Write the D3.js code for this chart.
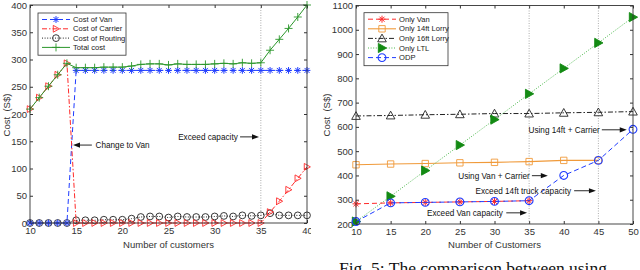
<!DOCTYPE html>
<html lang="en">
<head>
<meta charset="UTF-8">
<title>Cost comparison</title>
<script src="https://d3js.org/d3.v7.min.js"></script>
<style>
  body { margin: 0; background: #fff; }
  svg { display: block; font-family: "Liberation Sans", Arial, sans-serif; }
  .tick text { fill: #333; font-size: 9.5px; }
  .tick line { stroke: #333; }
  .frame { fill: none; stroke: #333; stroke-width: 0.9; }
  .lbl { fill: #333; font-size: 9.5px; }
  .note { fill: #111; font-size: 8.2px; }
  .leg text { fill: #222; font-size: 7.6px; }
</style>
</head>
<body>
<svg width="640" height="270"></svg>
<script>
// ---- left panel data (number of customers 10..40) ----
const custLeft = d3.range(10, 41);
const costVan =     [0,0,0,0,0, 280,280,280,280,280, 280,280,280,280,280, 280,280,280,280,280, 280,280,280,280,280, 280,280,280,280,280, 280];
const costCarrier = [209,230,251,272,293, 0,0,0,0,0, 0,0,0,0,0, 0,0,0,0,0, 0,0,0,0,0, 0,20,40,61,82, 103];
const costRouting = [0,0,0,0,0, 5,5,5,6,6, 6,8,11,12,12, 10,12,11,11,11, 12,13,12,14,13, 14,18,14,14,14, 14];
const totalCost =   [209,230,251,272,293, 285,285,285,286,286, 286,288,291,292,292, 290,292,291,291,291, 292,293,292,294,293, 294,317,337,357,378, 400];

// ---- right panel data (number of customers 10..50) ----
const custRight = [10, 15, 20, 25, 30, 35, 40, 45, 50];
const onlyVan =     [283, 287, 289, 291, 293, 296];
const only14ft =    [444, 447, 449, 452, 454, 457, 462, 462];
const only16ft =    [645, 647, 650, 652, 655, 655, 658, 660, 663];
const onlyLTL =     [210, 314, 420, 525, 630, 736, 841, 946, 1052];
const odp =         [210, 287, 289, 291, 293, 296, 400, 462, 590];

const svg = d3.select("svg");

// marker shapes
function markerPath(type, s) {
  if (type === "star") {
    const d = s * 0.72;
    return `M${-s},0H${s}M0,${-s}V${s}M${-d},${-d}L${d},${d}M${-d},${d}L${d},${-d}`;
  }
  if (type === "plus") return `M${-s},0H${s}M0,${-s}V${s}`;
  if (type === "triRight") return `M${-s * 0.8},${-s}L${s},0L${-s * 0.8},${s}Z`;
  if (type === "triUp") return `M0,${-s}L${s},${s * 0.8}L${-s},${s * 0.8}Z`;
  if (type === "square") return `M${-s},${-s}H${s}V${s}H${-s}Z`;
  if (type === "circle") return d3.path().toString() + `M${s},0A${s},${s},0,1,1,${-s},0A${s},${s},0,1,1,${s},0Z`;
  return "";
}

function drawMarker(g, x, y, m) {
  g.append("path")
    .attr("transform", `translate(${x},${y})`)
    .attr("d", markerPath(m.type, m.size))
    .attr("fill", m.fill || "none")
    .attr("stroke", m.stroke)
    .attr("stroke-width", m.sw || 0.9);
}

function arrowNote(g, x, y, note) {
  const tx = x(note.tip), tl = x(note.tail), ty = y(note.y);
  const dir = tx > tl ? 1 : -1;
  g.append("line").attr("x1", tl).attr("y1", ty).attr("x2", tx - dir * 6).attr("y2", ty)
    .attr("stroke", "#111").attr("stroke-width", 0.9);
  g.append("path")
    .attr("d", `M${tx},${ty}L${tx - dir * 7},${ty - 2.6}L${tx - dir * 7},${ty + 2.6}Z`)
    .attr("fill", "#111");
  g.append("text").attr("class", "note")
    .attr("x", x(note.textX)).attr("y", ty).attr("dy", "0.35em")
    .attr("text-anchor", dir > 0 ? "end" : "start")
    .text(note.text);
}

function drawPanel(p) {
  const g = svg.append("g");
  if (p.clip) {
    svg.append("clipPath").attr("id", p.clip.id)
      .append("rect").attr("x", 0).attr("y", 0).attr("width", p.clip.w).attr("height", 270);
    g.attr("clip-path", `url(#${p.clip.id})`);
  }
  const x = d3.scaleLinear().domain(p.xDomain).range([p.left, p.right]);
  const y = d3.scaleLinear().domain(p.yDomain).range([p.bottom, p.top]);

  // axes with inward MATLAB style ticks
  g.append("g").attr("transform", `translate(0,${p.bottom})`)
    .call(d3.axisBottom(x).tickValues(p.xTicks).tickSizeInner(-3).tickSizeOuter(0).tickPadding(4).tickFormat(d3.format("d")))
    .call(a => a.select(".domain").remove());
  g.append("g").attr("transform", `translate(${p.left},0)`)
    .call(d3.axisLeft(y).tickValues(p.yTicks).tickSizeInner(-3).tickSizeOuter(0).tickPadding(3).tickFormat(d3.format("d")))
    .call(a => a.select(".domain").remove());
  g.append("g").attr("transform", `translate(0,${p.top})`)
    .call(d3.axisTop(x).tickValues(p.xTicks).tickSizeInner(-3).tickSizeOuter(0).tickFormat(""))
    .call(a => a.select(".domain").remove());
  g.append("g").attr("transform", `translate(${p.right},0)`)
    .call(d3.axisRight(y).tickValues(p.yTicks).tickSizeInner(-3).tickSizeOuter(0).tickFormat(""))
    .call(a => a.select(".domain").remove());

  // dotted vertical guides
  p.guides.forEach(v => {
    g.append("line").attr("x1", x(v)).attr("x2", x(v)).attr("y1", p.top).attr("y2", p.bottom)
      .attr("stroke", "#999").attr("stroke-width", 0.8).attr("stroke-dasharray", "1,1.5");
  });

  // series
  p.series.forEach(s => {
    const pts = s.values.map((v, i) => [p.xs[i], v]);
    g.append("path").datum(pts)
      .attr("d", d3.line().x(d => x(d[0])).y(d => y(d[1])))
      .attr("fill", "none").attr("stroke", s.color).attr("stroke-width", s.lw || 1)
      .attr("stroke-dasharray", s.dash || null);
    pts.forEach(d => drawMarker(g, x(d[0]), y(d[1]), s.marker));
  });

  g.append("rect").attr("class", "frame")
    .attr("x", p.left).attr("y", p.top).attr("width", p.right - p.left).attr("height", p.bottom - p.top);

  // labels
  g.append("text").attr("class", "lbl").attr("x", (p.left + p.right) / 2).attr("y", 248)
    .attr("text-anchor", "middle").text(p.xLabel);
  g.append("text").attr("class", "lbl").attr("text-anchor", "middle")
    .attr("transform", `translate(${p.yLabelX},115) rotate(-90)`).attr("dy", "0.35em")
    .text("Cost  (S$)").attr("xml:space", "preserve").style("white-space", "pre");

  p.notes.forEach(n => arrowNote(g, x, y, n));

  // legend
  const L = p.legend;
  const leg = g.append("g").attr("class", "leg");
  leg.append("rect").attr("x", L.x).attr("y", L.y).attr("width", L.w).attr("height", L.rowH * p.series.length + 5)
    .attr("fill", "#fff").attr("stroke", "#333").attr("stroke-width", 0.8);
  p.legendOrder.forEach((s, i) => {
    const cy = L.y + 6.5 + i * L.rowH;
    leg.append("line").attr("x1", L.x + 4).attr("x2", L.x + 32).attr("y1", cy).attr("y2", cy)
      .attr("stroke", s.color).attr("stroke-width", s.lw || 1).attr("stroke-dasharray", s.dash || null);
    drawMarker(leg, L.x + 18, cy, s.marker);
    leg.append("text").attr("x", L.x + 35).attr("y", cy).attr("dy", "0.35em").text(s.name);
  });
}

const blue = "#1f3cff", red = "#ff2a2a", dkGreen = "#2a962a";

const sVan = { name: "Cost of Van", values: costVan, color: blue, dash: "5,3",
  marker: { type: "star", size: 3.4, stroke: blue, sw: 1 } };
const sCarrier = { name: "Cost of Carrier", values: costCarrier, color: red, dash: "5,2,1.5,2",
  marker: { type: "triRight", size: 3.4, stroke: red } };
const sRouting = { name: "Cost of Routing", values: costRouting, color: "#222", dash: "1,1.6",
  marker: { type: "circle", size: 3.4, stroke: "#222" } };
const sTotal = { name: "Total cost", values: totalCost, color: dkGreen,
  marker: { type: "plus", size: 4, stroke: dkGreen } };

drawPanel({
  clip: { id: "clipL", w: 311 },
  xs: custLeft, xDomain: [10, 40], yDomain: [0, 400],
  left: 30, right: 307, top: 5, bottom: 223,
  xTicks: [10, 15, 20, 25, 30, 35, 40], yTicks: d3.range(0, 401, 50),
  guides: [35],
  series: [sRouting, sVan, sCarrier, sTotal],
  legendOrder: [sVan, sCarrier, sRouting, sTotal],
  legend: { x: 38, y: 13, w: 88, rowH: 9.3 },
  xLabel: "Number of customers", yLabelX: 7,
  notes: [
    { text: "Change to Van", y: 143, tip: 14.66, tail: 16.7, textX: 17.1 },
    { text: "Exceed capacity", y: 158, tip: 34.8, tail: 32.75, textX: 32.5 }
  ]
});

const orange = "#f09a3a", green = "#138a13";
const rVan = { name: "Only Van", values: onlyVan, color: red, dash: "5,3",
  marker: { type: "star", size: 3.5, stroke: red, sw: 1 } };
const r14 = { name: "Only 14ft Lorry", values: only14ft, color: orange, lw: 1.1,
  marker: { type: "square", size: 3.2, stroke: orange } };
const r16 = { name: "Only 16ft Lorry", values: only16ft, color: "#222", dash: "5,2,1.5,2",
  marker: { type: "triUp", size: 4.3, stroke: "#222" } };
const rLTL = { name: "Only LTL", values: onlyLTL, color: "#4dba4d", dash: "1,1.6",
  marker: { type: "triRight", size: 4.6, stroke: green, fill: green } };
const rODP = { name: "ODP", values: odp, color: blue, dash: "5,3",
  marker: { type: "circle", size: 3.9, stroke: blue, sw: 1.1 } };

drawPanel({
  xs: custRight, xDomain: [10, 50], yDomain: [200, 1100],
  left: 356, right: 633, top: 5.5, bottom: 224,
  xTicks: custRight, yTicks: d3.range(200, 1101, 100),
  guides: [35, 45],
  series: [r16, r14, rLTL, rVan, rODP],
  legendOrder: [rVan, r14, r16, rLTL, rODP],
  legend: { x: 364, y: 12.7, w: 84, rowH: 9.6 },
  xLabel: "Number of Customers", yLabelX: 327,
  notes: [
    { text: "Using 14ft + Carrier", y: 588, tip: 49.1, tail: 45.5, textX: 45.2 },
    { text: "Using Van + Carrier", y: 399, tip: 37.7, tail: 35.4, textX: 35.1 },
    { text: "Exceed 14ft truck capacity", y: 337, tip: 44.65, tail: 41.5, textX: 41.05 },
    { text: "Exceed Van capacity", y: 246, tip: 34.7, tail: 31.7, textX: 31.2 }
  ]
});

// caption fragment below the right panel
svg.append("text").attr("x", 339).attr("y", 274)
  .attr("font-family", "'Liberation Serif', 'Times New Roman', serif")
  .attr("font-size", 17.5).attr("fill", "#111")
  .text("Fig. 5: The comparison between using");
</script>
</body>
</html>
